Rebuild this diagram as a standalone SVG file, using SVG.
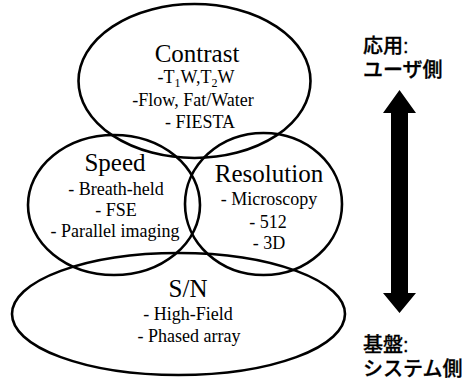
<svg xmlns="http://www.w3.org/2000/svg" width="471" height="382" viewBox="0 0 471 382">
<style>
.e{fill:none;stroke:#000;stroke-width:2.6}
.h{font-family:'Liberation Serif','DejaVu Serif',serif;font-size:25px;text-anchor:middle;fill:#000}
.b{font-family:'Liberation Serif','DejaVu Serif',serif;font-size:18px;text-anchor:middle;fill:#000}
.j{font-family:'Liberation Sans','Noto Sans CJK JP',sans-serif;font-size:20px;font-weight:500;fill:#000;stroke:#000;stroke-width:0.3}
</style>
<rect width="471" height="382" fill="#fff"/>
<g id="contrast">
<ellipse class="e" cx="194.5" cy="81" rx="116" ry="77"/>
<text class="h" x="197" y="62">Contrast</text>
<text class="b" x="196" y="83">-T<tspan font-size="12" dy="4">1</tspan><tspan dy="-4">W,T</tspan><tspan font-size="12" dy="4">2</tspan><tspan dy="-4">W</tspan></text>
<text class="b" x="193" y="106">-Flow, Fat/Water</text>
<text class="b" x="200" y="128">- FIESTA</text>
</g>
<g id="speed">
<ellipse class="e" cx="114" cy="205" rx="86" ry="70"/>
<text class="h" x="115" y="171">Speed</text>
<text class="b" x="116" y="195">- Breath-held</text>
<text class="b" x="116" y="216">- FSE</text>
<text class="b" x="115" y="237">- Parallel imaging</text>
</g>
<g id="resolution">
<ellipse class="e" cx="263.5" cy="204" rx="78.5" ry="71"/>
<text class="h" x="269" y="182">Resolution</text>
<text class="b" x="269" y="205">- Microscopy</text>
<text class="b" x="268" y="228">- 512</text>
<text class="b" x="269" y="249">- 3D</text>
</g>
<g id="sn">
<ellipse class="e" cx="178.5" cy="314" rx="166.5" ry="61"/>
<text class="h" x="188" y="297">S/N</text>
<text class="b" x="188" y="320">- High-Field</text>
<text class="b" x="189" y="342">- Phased array</text>
</g>
<g id="connectors">
<polygon points="399.5,90 416,113 408,113 408,293 416,293 399.5,313 383,293 391,293 391,113 383,113" fill="#000"/>
</g>
<g id="labels">
<text class="j" x="363" y="53">応用:</text>
<text class="j" x="363" y="77">ユーザ側</text>
<text class="j" x="363" y="352">基盤:</text>
<text class="j" x="363" y="376">システム側</text>
</g>
</svg>
